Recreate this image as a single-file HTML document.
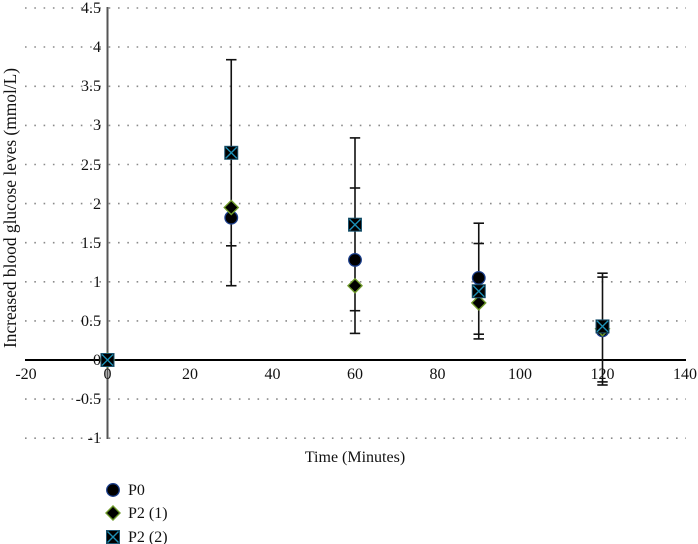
<!DOCTYPE html>
<html><head><meta charset="utf-8"><style>
html,body{margin:0;padding:0;background:#fff;}
svg{display:block;}
text{font-family:"Liberation Serif",serif;fill:#111;}
</style></head><body>
<svg width="698" height="544" viewBox="0 0 698 544" xmlns="http://www.w3.org/2000/svg">
<defs>
<g id="circ"><circle r="6.3" fill="#000" stroke="#1c3f8c" stroke-width="1.3"/></g>
<g id="diam"><polygon points="0,-7 7,0 0,7 -7,0" fill="#000" stroke="#6e9a2a" stroke-width="1.4"/></g>
<g id="sq"><rect x="-6.5" y="-6.5" width="13" height="13" fill="#000" stroke="#1d5570" stroke-width="1"/><path d="M-5.5,-5.5 L5.5,5.5 M5.5,-5.5 L-5.5,5.5" stroke="#1c8fb5" stroke-width="1.4"/></g>
</defs>
<!-- gridlines -->
<g stroke="#8a8a8a" stroke-width="1.6" stroke-dasharray="1.6 7.7">
<line x1="25" y1="8" x2="686" y2="8"/>
<line x1="25" y1="47" x2="686" y2="47"/>
<line x1="25" y1="86.3" x2="686" y2="86.3"/>
<line x1="25" y1="125.4" x2="686" y2="125.4"/>
<line x1="25" y1="164.5" x2="686" y2="164.5"/>
<line x1="25" y1="203.6" x2="686" y2="203.6"/>
<line x1="25" y1="242.7" x2="686" y2="242.7"/>
<line x1="25" y1="281.8" x2="686" y2="281.8"/>
<line x1="25" y1="320.9" x2="686" y2="320.9"/>
<line x1="25" y1="399.1" x2="686" y2="399.1"/>
<line x1="25" y1="438.2" x2="686" y2="438.2"/>
</g>
<!-- axes -->
<line x1="107.5" y1="7" x2="107.5" y2="439" stroke="#555" stroke-width="2"/>
<line x1="25" y1="360" x2="686" y2="360" stroke="#000" stroke-width="2"/>
<!-- y tick labels -->
<g font-size="16" text-anchor="end">
<text x="101" y="13">4.5</text>
<text x="101" y="52">4</text>
<text x="101" y="91">3.5</text>
<text x="101" y="130">3</text>
<text x="101" y="170">2.5</text>
<text x="101" y="209">2</text>
<text x="101" y="248">1.5</text>
<text x="101" y="287">1</text>
<text x="101" y="326">0.5</text>
<text x="101" y="365">0</text>
<text x="101" y="404">-0.5</text>
<text x="101" y="443">-1</text>
</g>
<!-- x tick labels -->
<g font-size="16" text-anchor="middle">
<text x="26" y="379">-20</text>
<text x="107.5" y="379">0</text>
<text x="190" y="379">20</text>
<text x="272.5" y="379">40</text>
<text x="355" y="379">60</text>
<text x="437.5" y="379">80</text>
<text x="520" y="379">100</text>
<text x="602.5" y="379">120</text>
<text x="685" y="379">140</text>
</g>
<!-- titles -->
<text x="355" y="462" font-size="16" text-anchor="middle">Time (Minutes)</text>
<text transform="translate(16,208) rotate(-90)" font-size="17.4" text-anchor="middle">Increased blood glucose leves (mmol/L)</text>
<!-- error bars -->
<g stroke="#111" stroke-width="1.6">
<line x1="231.25" y1="59.7" x2="231.25" y2="285.7"/>
<line x1="226" y1="59.7" x2="236.5" y2="59.7"/>
<line x1="226" y1="245.8" x2="236.5" y2="245.8"/>
<line x1="226" y1="285.7" x2="236.5" y2="285.7"/>
<line x1="355" y1="137.9" x2="355" y2="333.4"/>
<line x1="349.8" y1="137.9" x2="360.2" y2="137.9"/>
<line x1="349.8" y1="188" x2="360.2" y2="188"/>
<line x1="349.8" y1="310.7" x2="360.2" y2="310.7"/>
<line x1="349.8" y1="333.4" x2="360.2" y2="333.4"/>
<line x1="478.75" y1="223.2" x2="478.75" y2="338.9"/>
<line x1="473.5" y1="223.2" x2="484" y2="223.2"/>
<line x1="473.5" y1="243.5" x2="484" y2="243.5"/>
<line x1="473.5" y1="334.2" x2="484" y2="334.2"/>
<line x1="473.5" y1="338.9" x2="484" y2="338.9"/>
<line x1="602.5" y1="273.2" x2="602.5" y2="385"/>
<line x1="597.3" y1="273.2" x2="607.7" y2="273.2"/>
<line x1="597.3" y1="277.1" x2="607.7" y2="277.1"/>
<line x1="597.3" y1="381.9" x2="607.7" y2="381.9"/>
<line x1="597.3" y1="385" x2="607.7" y2="385"/>
</g>
<!-- markers P0 -->
<use href="#circ" x="107.5" y="360"/>
<use href="#circ" x="231.25" y="217.7"/>
<use href="#circ" x="355" y="259.9"/>
<use href="#circ" x="478.75" y="277.9"/>
<use href="#circ" x="602.5" y="330.3"/>
<!-- markers P2(1) -->
<use href="#diam" x="107.5" y="360"/>
<use href="#diam" x="231.25" y="207.5"/>
<use href="#diam" x="355" y="285.7"/>
<use href="#diam" x="478.75" y="302.9"/>
<use href="#diam" x="602.5" y="328.7"/>
<!-- markers P2(2) -->
<use href="#sq" x="107.5" y="360"/>
<use href="#sq" x="231.25" y="152.8"/>
<use href="#sq" x="355" y="224.7"/>
<use href="#sq" x="478.75" y="291.2"/>
<use href="#sq" x="602.5" y="326.4"/>
<!-- legend -->
<use href="#circ" x="113" y="490"/>
<use href="#diam" x="113" y="513"/>
<use href="#sq" x="113" y="537"/>
<g font-size="16">
<text x="128" y="495">P0</text>
<text x="128" y="518">P2 (1)</text>
<text x="128" y="542">P2 (2)</text>
</g>
</svg>
</body></html>
